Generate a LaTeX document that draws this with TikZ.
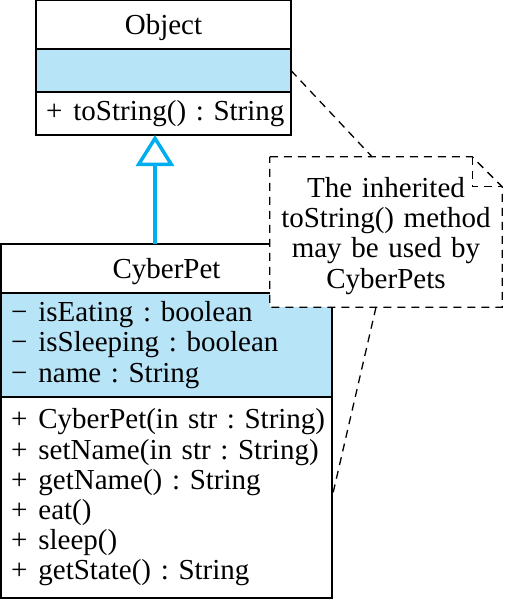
\documentclass[tikz,border=0pt]{standalone}
\usepackage{fontspec}
\setmainfont{Liberation Serif}
\usetikzlibrary{positioning, calc, arrows.meta}
\definecolor{umlblue}{RGB}{184,228,248}
\definecolor{umlcyan}{RGB}{0,174,239}
\newcommand{\umlrow}[2]{\mbox{#1\hspace{.38em}#2}}

\begin{document}
\begin{tikzpicture}[
    x=1pt, y=1pt,
    font=\fontsize{29}{30.2}\selectfont\frenchspacing,
    classname/.style={
        draw,
        line width=1.5pt,
        outer sep=0pt,
        inner sep=0pt,
        minimum height=49pt,
        text depth=0pt,
        align=center,
    },
    classpart/.style={
        draw,
        line width=1.5pt,
        outer sep=0pt,
        inner xsep=10pt,
        inner ysep=0pt,
        align=left,
    },
    notebox/.style={
        fill=white,
        minimum width=232pt,
        minimum height=150pt,
        text width=222pt,
        inner sep=0pt,
        align=center,
    },
    noteline/.style={
        dashed,
        dash pattern=on 8pt off 6pt,
        line width=1.3pt,
    },
    inherit/.style={
        -{Triangle[open, length=31pt, width=38pt]},
        line width=3.5pt,
        umlcyan,
    },
]

    \useasboundingbox (0,0) rectangle (504,-600);

    % Object class
    \node[classname, minimum width=255pt] (objname) at (163.5,-24.5) {Object};
    \node[classpart, fill=umlblue, text width=235pt, minimum height=43pt,
        below=0pt of objname] (objattr) {};
    \node[classpart, text width=235pt, minimum height=43pt,
        below=0pt of objattr] (objmeth) {\umlrow{+}{toString() : String}};

    % CyberPet class
    \node[classname, minimum width=331pt] (cpname) at (166.5,-268.5) {CyberPet};
    \node[classpart, fill=umlblue, text width=311pt, minimum height=104pt,
        below=0pt of cpname] (cpattr) {\umlrow{−}{isEating : boolean}\\
        \umlrow{−}{isSleeping : boolean}\\
        \umlrow{−}{name : String}};
    \node[classpart, text width=311pt, minimum height=201pt,
        below=0pt of cpattr] (cpmeth) {\umlrow{+}{CyberPet(in str : String)}\\
        \umlrow{+}{setName(in str : String)}\\
        \umlrow{+}{getName() : String}\\
        \umlrow{+}{eat()}\\
        \umlrow{+}{sleep()}\\
        \umlrow{+}{getState() : String}};

    % Inheritance arrow
    \coordinate[right=154pt of cpname.north west] (cpjoin);
    \draw[inherit] (cpjoin) -- (cpjoin |- objmeth.south);

    % Note
    \node[notebox] (note) at (386,-232) {\rule{0pt}{28pt}The inherited\\toString() method\\may be used by\\CyberPets};
    \coordinate (foldl) at ($(note.north east)+(-30pt,0)$);
    \coordinate (foldb) at ($(note.north east)+(0,-30pt)$);
    \draw[noteline] (note.north west) -- (foldl) -- (foldb) -- (note.south east)
        -- (note.south west) -- cycle;
    \draw[noteline] (foldl) |- (foldb);

    % Draw note links
    \draw[noteline] (objattr.east) -- ($(note.north west)!0.44!(note.north east)$);
    \draw[noteline] ($(note.south west)!0.457!(note.south east)$) -- (cpmeth.east);

\end{tikzpicture}
\end{document}
